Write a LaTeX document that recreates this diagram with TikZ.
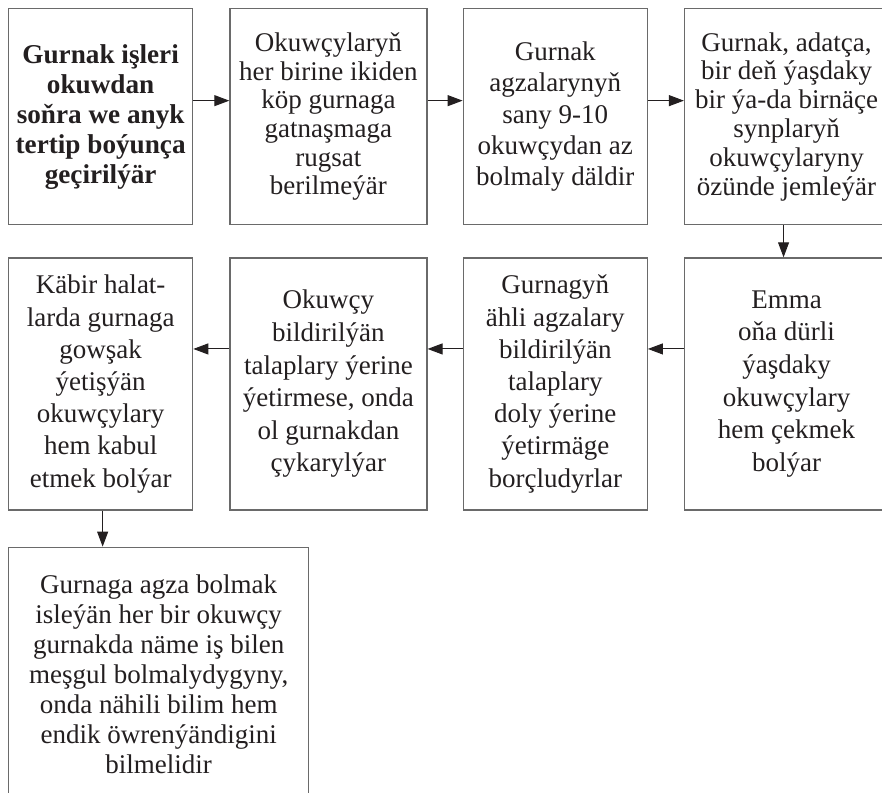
\documentclass[tikz,border=0pt]{standalone}
\usepackage{fontspec}
\setmainfont{Liberation Serif}
\usepackage{xcolor}
\usepackage{tikz}
\usetikzlibrary{arrows.meta,positioning}
\definecolor{BoxLine}{HTML}{6A6A6A}
\definecolor{Ink}{HTML}{231F20}

\begin{document}
\begin{tikzpicture}[>={Triangle[length=7.5pt,width=5.5pt]},
  stage/.style={draw=BoxLine,line width=0.65pt,align=center,inner sep=2pt,text=Ink},
  lead/.style={font=\fontsize{13.5}{#1}\selectfont},
  flow/.style={->,line width=0.5pt,Ink}]
  \useasboundingbox (0,0) rectangle (441pt,-396pt);
  % top row, left to right
  \node[stage,anchor=north west,minimum width=92pt,minimum height=108pt,font=\fontsize{13.6}{15}\selectfont\bfseries] (rules) at (4pt,-4pt)
    {Gurnak işleri\\okuwdan\\soňra we anyk\\tertip boýunça\\geçirilýär};
  \node[stage,lead=14.3,minimum width=98.5pt,minimum height=108pt,right=18pt of rules] (single)
    {Okuwçylaryň\\her birine ikiden\\köp gurnaga\\gatnaşmaga\\rugsat\\berilmeýär};
  \node[stage,lead=15.7,minimum width=92pt,minimum height=108pt,right=17.5pt of single] (size)
    {Gurnak\\agzalarynyň\\sany 9-10\\okuwçydan az\\bolmaly däldir};
  \node[stage,lead=14.4,minimum width=102pt,minimum height=108pt,right=18pt of size] (age)
    {Gurnak, adatça,\\bir deň ýaşdaky\\bir ýa-da birnäçe\\synplaryň\\okuwçylaryny\\özünde jemleýär};
  % second row, right to left
  \node[stage,lead=16.3,minimum width=102pt,minimum height=126pt,below=16pt of age] (mixed)
    {Emma\\oňa dürli\\ýaşdaky\\okuwçylary\\hem çekmek\\bolýar};
  \node[stage,lead=16.1,minimum width=92pt,minimum height=126pt,left=18pt of mixed] (duty)
    {Gurnagyň\\ähli agzalary\\bildirilýän\\talaplary\\doly ýerine\\ýetirmäge\\borçludyrlar};
  \node[stage,lead=16.3,minimum width=98.5pt,minimum height=126pt,left=17.5pt of duty] (expel)
    {Okuwçy\\bildirilýän\\talaplary ýerine\\ýetirmese, onda\\ol gurnakdan\\çykarylýar};
  \node[stage,lead=16.1,minimum width=92pt,minimum height=126pt,left=18pt of expel] (weak)
    {Käbir halat-\\larda gurnaga\\gowşak\\ýetişýän\\okuwçylary\\hem kabul\\etmek bolýar};
  % bottom
  \node[stage,lead=15,minimum width=150pt,minimum height=127pt,below=18pt of weak.south west,anchor=north west] (join)
    {Gurnaga agza bolmak\\isleýän her bir okuwçy\\gurnakda näme iş bilen\\meşgul bolmalydygyny,\\onda nähili bilim hem\\endik öwrenýändigini\\bilmelidir};
  \draw[flow] ([yshift=8pt]rules.east) -- ([yshift=8pt]single.west);
  \draw[flow] ([yshift=8pt]single.east) -- ([yshift=8pt]size.west);
  \draw[flow] ([yshift=8pt]size.east) -- ([yshift=8pt]age.west);
  \draw[flow] ([xshift=-1.5pt]age.south) -- ([xshift=-1.5pt]mixed.north);
  \draw[flow] ([yshift=17.5pt]mixed.west) -- ([yshift=17.5pt]duty.east);
  \draw[flow] ([yshift=17.5pt]duty.west) -- ([yshift=17.5pt]expel.east);
  \draw[flow] ([yshift=17.5pt]expel.west) -- ([yshift=17.5pt]weak.east);
  \draw[flow] ([xshift=1pt]weak.south) -- ([xshift=1pt]weak.south |- join.north);
\end{tikzpicture}
\end{document}
